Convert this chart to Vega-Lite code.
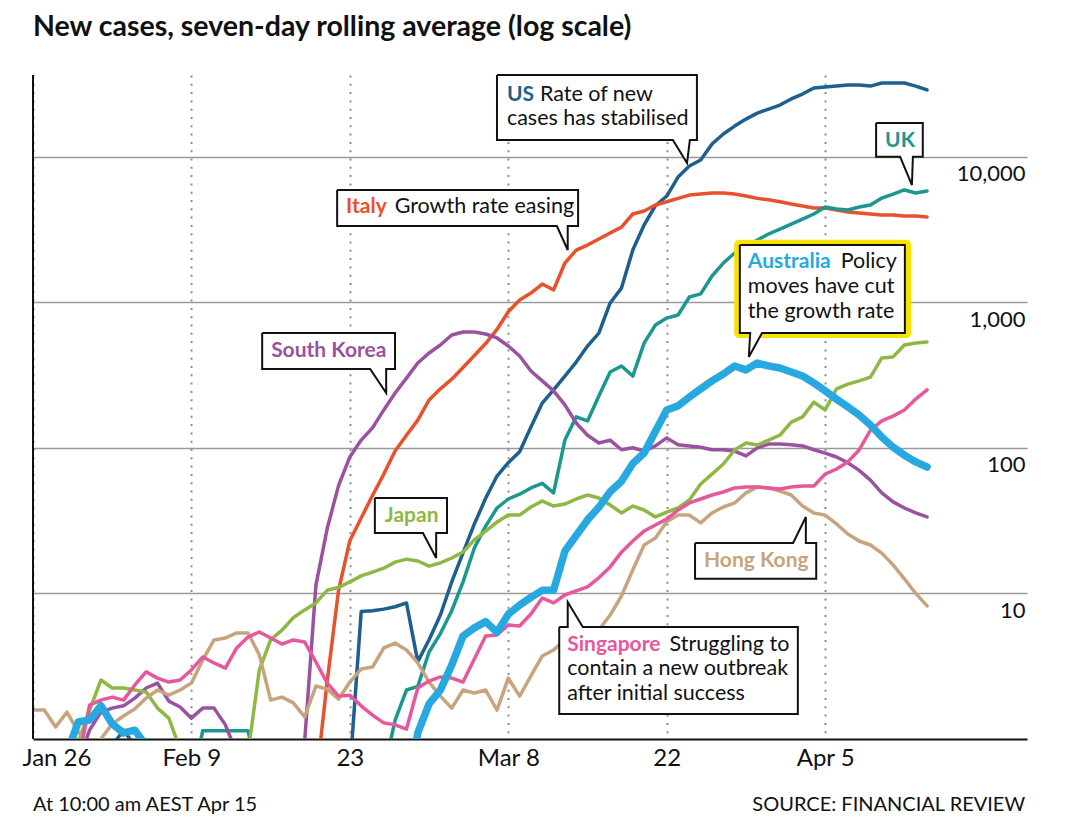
{
  "$schema": "https://vega.github.io/schema/vega-lite/v6.json",
  "autosize": "none",
  "width": 994,
  "height": 664,
  "padding": {"left": 33, "top": 75, "right": 53, "bottom": 98},
  "background": "white",
  "title": {"text": "New cases, seven-day rolling average (log scale)", "anchor": "start", "frame": "group", "font": "Lato", "fontSize": 28.5, "fontWeight": "bold", "color": "#111111", "offset": 30},
  "config": {"view": {"stroke": null}, "font": "Lato"},
  "data": {"values": [
    {"country":"US","date":"2020-02-02","cases":0.9},{"country":"US","date":"2020-02-03","cases":1.15},{"country":"US","date":"2020-02-04","cases":0.9},
    {"country":"US","date":"2020-02-23","cases":0.6},{"country":"US","date":"2020-02-24","cases":7.5},{"country":"US","date":"2020-02-25","cases":7.6},{"country":"US","date":"2020-02-26","cases":7.8},{"country":"US","date":"2020-02-27","cases":8.1},{"country":"US","date":"2020-02-28","cases":8.6},{"country":"US","date":"2020-02-29","cases":3.4},
    {"country":"US","date":"2020-03-01","cases":4.8},{"country":"US","date":"2020-03-02","cases":7.1},{"country":"US","date":"2020-03-03","cases":12},{"country":"US","date":"2020-03-04","cases":19},{"country":"US","date":"2020-03-05","cases":30},{"country":"US","date":"2020-03-06","cases":45},{"country":"US","date":"2020-03-07","cases":64},{"country":"US","date":"2020-03-08","cases":79},{"country":"US","date":"2020-03-09","cases":94},{"country":"US","date":"2020-03-10","cases":139},{"country":"US","date":"2020-03-11","cases":203},{"country":"US","date":"2020-03-12","cases":250},{"country":"US","date":"2020-03-13","cases":311},{"country":"US","date":"2020-03-14","cases":388},{"country":"US","date":"2020-03-15","cases":500},{"country":"US","date":"2020-03-16","cases":614},{"country":"US","date":"2020-03-17","cases":988},{"country":"US","date":"2020-03-18","cases":1250},{"country":"US","date":"2020-03-19","cases":2284},{"country":"US","date":"2020-03-20","cases":3390},{"country":"US","date":"2020-03-21","cases":4600},{"country":"US","date":"2020-03-22","cases":5360},{"country":"US","date":"2020-03-23","cases":7240},{"country":"US","date":"2020-03-24","cases":8610},{"country":"US","date":"2020-03-25","cases":9480},{"country":"US","date":"2020-03-26","cases":12200},{"country":"US","date":"2020-03-27","cases":14300},{"country":"US","date":"2020-03-28","cases":16200},{"country":"US","date":"2020-03-29","cases":18100},{"country":"US","date":"2020-03-30","cases":19900},{"country":"US","date":"2020-03-31","cases":21200},
    {"country":"US","date":"2020-04-01","cases":22600},{"country":"US","date":"2020-04-02","cases":24900},{"country":"US","date":"2020-04-03","cases":26900},{"country":"US","date":"2020-04-04","cases":29600},{"country":"US","date":"2020-04-05","cases":30100},{"country":"US","date":"2020-04-06","cases":30500},{"country":"US","date":"2020-04-07","cases":31000},{"country":"US","date":"2020-04-08","cases":31000},{"country":"US","date":"2020-04-09","cases":30500},{"country":"US","date":"2020-04-10","cases":32000},{"country":"US","date":"2020-04-11","cases":32000},{"country":"US","date":"2020-04-12","cases":32000},{"country":"US","date":"2020-04-13","cases":30500},{"country":"US","date":"2020-04-14","cases":28700},

    {"country":"Italy","date":"2020-02-20","cases":0.5},{"country":"Italy","date":"2020-02-21","cases":2.5},{"country":"Italy","date":"2020-02-22","cases":10.5},{"country":"Italy","date":"2020-02-23","cases":23},{"country":"Italy","date":"2020-02-24","cases":33},{"country":"Italy","date":"2020-02-25","cases":47},{"country":"Italy","date":"2020-02-26","cases":66},{"country":"Italy","date":"2020-02-27","cases":95},{"country":"Italy","date":"2020-02-28","cases":122},{"country":"Italy","date":"2020-02-29","cases":155},
    {"country":"Italy","date":"2020-03-01","cases":213},{"country":"Italy","date":"2020-03-02","cases":254},{"country":"Italy","date":"2020-03-03","cases":296},{"country":"Italy","date":"2020-03-04","cases":356},{"country":"Italy","date":"2020-03-05","cases":430},{"country":"Italy","date":"2020-03-06","cases":520},{"country":"Italy","date":"2020-03-07","cases":650},{"country":"Italy","date":"2020-03-08","cases":860},{"country":"Italy","date":"2020-03-09","cases":1035},{"country":"Italy","date":"2020-03-10","cases":1156},{"country":"Italy","date":"2020-03-11","cases":1333},{"country":"Italy","date":"2020-03-12","cases":1213},{"country":"Italy","date":"2020-03-13","cases":1858},{"country":"Italy","date":"2020-03-14","cases":2280},{"country":"Italy","date":"2020-03-15","cases":2470},{"country":"Italy","date":"2020-03-16","cases":2717},{"country":"Italy","date":"2020-03-17","cases":2987},{"country":"Italy","date":"2020-03-18","cases":3280},{"country":"Italy","date":"2020-03-19","cases":4034},{"country":"Italy","date":"2020-03-20","cases":4230},{"country":"Italy","date":"2020-03-21","cases":4650},{"country":"Italy","date":"2020-03-22","cases":4900},{"country":"Italy","date":"2020-03-23","cases":5165},{"country":"Italy","date":"2020-03-24","cases":5440},{"country":"Italy","date":"2020-03-25","cases":5530},{"country":"Italy","date":"2020-03-26","cases":5620},{"country":"Italy","date":"2020-03-27","cases":5620},{"country":"Italy","date":"2020-03-28","cases":5530},{"country":"Italy","date":"2020-03-29","cases":5360},{"country":"Italy","date":"2020-03-30","cases":5165},{"country":"Italy","date":"2020-03-31","cases":5060},
    {"country":"Italy","date":"2020-04-01","cases":4900},{"country":"Italy","date":"2020-04-02","cases":4720},{"country":"Italy","date":"2020-04-03","cases":4580},{"country":"Italy","date":"2020-04-04","cases":4436},{"country":"Italy","date":"2020-04-05","cases":4436},{"country":"Italy","date":"2020-04-06","cases":4297},{"country":"Italy","date":"2020-04-07","cases":4165},{"country":"Italy","date":"2020-04-08","cases":4100},{"country":"Italy","date":"2020-04-09","cases":4034},{"country":"Italy","date":"2020-04-10","cases":3970},{"country":"Italy","date":"2020-04-11","cases":3970},{"country":"Italy","date":"2020-04-12","cases":3909},{"country":"Italy","date":"2020-04-13","cases":3909},{"country":"Italy","date":"2020-04-14","cases":3847},

    {"country":"UK","date":"2020-02-09","cases":0.5},{"country":"UK","date":"2020-02-10","cases":1.14},{"country":"UK","date":"2020-02-11","cases":1.14},{"country":"UK","date":"2020-02-12","cases":1.14},{"country":"UK","date":"2020-02-13","cases":1.14},{"country":"UK","date":"2020-02-14","cases":1.14},{"country":"UK","date":"2020-02-15","cases":0.5},
    {"country":"UK","date":"2020-02-26","cases":0.6},{"country":"UK","date":"2020-02-27","cases":1.35},{"country":"UK","date":"2020-02-28","cases":2.17},{"country":"UK","date":"2020-02-29","cases":2.3},
    {"country":"UK","date":"2020-03-01","cases":3.96},{"country":"UK","date":"2020-03-02","cases":5.3},{"country":"UK","date":"2020-03-03","cases":7.6},{"country":"UK","date":"2020-03-04","cases":12},{"country":"UK","date":"2020-03-05","cases":20.5},{"country":"UK","date":"2020-03-06","cases":29},{"country":"UK","date":"2020-03-07","cases":38.6},{"country":"UK","date":"2020-03-08","cases":44.5},{"country":"UK","date":"2020-03-09","cases":48},{"country":"UK","date":"2020-03-10","cases":53},{"country":"UK","date":"2020-03-11","cases":57},{"country":"UK","date":"2020-03-12","cases":49},{"country":"UK","date":"2020-03-13","cases":113},{"country":"UK","date":"2020-03-14","cases":163},{"country":"UK","date":"2020-03-15","cases":153},{"country":"UK","date":"2020-03-16","cases":227},{"country":"UK","date":"2020-03-17","cases":332},{"country":"UK","date":"2020-03-18","cases":365},{"country":"UK","date":"2020-03-19","cases":311},{"country":"UK","date":"2020-03-20","cases":524},{"country":"UK","date":"2020-03-21","cases":697},{"country":"UK","date":"2020-03-22","cases":778},{"country":"UK","date":"2020-03-23","cases":817},{"country":"UK","date":"2020-03-24","cases":1086},{"country":"UK","date":"2020-03-25","cases":1140},{"country":"UK","date":"2020-03-26","cases":1514},{"country":"UK","date":"2020-03-27","cases":1858},{"country":"UK","date":"2020-03-28","cases":2177},{"country":"UK","date":"2020-03-29","cases":2430},{"country":"UK","date":"2020-03-30","cases":2675},{"country":"UK","date":"2020-03-31","cases":2940},
    {"country":"UK","date":"2020-04-01","cases":3180},{"country":"UK","date":"2020-04-02","cases":3443},{"country":"UK","date":"2020-04-03","cases":3726},{"country":"UK","date":"2020-04-04","cases":4034},{"country":"UK","date":"2020-04-05","cases":4506},{"country":"UK","date":"2020-04-06","cases":4366},{"country":"UK","date":"2020-04-07","cases":4297},{"country":"UK","date":"2020-04-08","cases":4506},{"country":"UK","date":"2020-04-09","cases":4650},{"country":"UK","date":"2020-04-10","cases":5190},{"country":"UK","date":"2020-04-11","cases":5530},{"country":"UK","date":"2020-04-12","cases":5900},{"country":"UK","date":"2020-04-13","cases":5620},{"country":"UK","date":"2020-04-14","cases":5800},

    {"country":"South Korea","date":"2020-01-30","cases":0.7},{"country":"South Korea","date":"2020-01-31","cases":1.15},{"country":"South Korea","date":"2020-02-01","cases":1.53},{"country":"South Korea","date":"2020-02-02","cases":1.63},{"country":"South Korea","date":"2020-02-03","cases":1.69},{"country":"South Korea","date":"2020-02-04","cases":1.91},{"country":"South Korea","date":"2020-02-05","cases":2.24},{"country":"South Korea","date":"2020-02-06","cases":2.42},{"country":"South Korea","date":"2020-02-07","cases":1.82},{"country":"South Korea","date":"2020-02-08","cases":1.66},{"country":"South Korea","date":"2020-02-09","cases":1.39},{"country":"South Korea","date":"2020-02-10","cases":1.63},{"country":"South Korea","date":"2020-02-11","cases":1.63},{"country":"South Korea","date":"2020-02-12","cases":1.25},{"country":"South Korea","date":"2020-02-13","cases":0.8},
    {"country":"South Korea","date":"2020-02-18","cases":0.3},{"country":"South Korea","date":"2020-02-19","cases":0.95},{"country":"South Korea","date":"2020-02-20","cases":11.4},{"country":"South Korea","date":"2020-02-21","cases":28},{"country":"South Korea","date":"2020-02-22","cases":55},{"country":"South Korea","date":"2020-02-23","cases":86.5},{"country":"South Korea","date":"2020-02-24","cases":113},{"country":"South Korea","date":"2020-02-25","cases":137},{"country":"South Korea","date":"2020-02-26","cases":182},{"country":"South Korea","date":"2020-02-27","cases":238},{"country":"South Korea","date":"2020-02-28","cases":301},{"country":"South Korea","date":"2020-02-29","cases":382},
    {"country":"South Korea","date":"2020-03-01","cases":448},{"country":"South Korea","date":"2020-03-02","cases":508},{"country":"South Korea","date":"2020-03-03","cases":595},{"country":"South Korea","date":"2020-03-04","cases":624},{"country":"South Korea","date":"2020-03-05","cases":624},{"country":"South Korea","date":"2020-03-06","cases":605},{"country":"South Korea","date":"2020-03-07","cases":568},{"country":"South Korea","date":"2020-03-08","cases":500},{"country":"South Korea","date":"2020-03-09","cases":427},{"country":"South Korea","date":"2020-03-10","cases":337},{"country":"South Korea","date":"2020-03-11","cases":288},{"country":"South Korea","date":"2020-03-12","cases":246},{"country":"South Korea","date":"2020-03-13","cases":197},{"country":"South Korea","date":"2020-03-14","cases":148},{"country":"South Korea","date":"2020-03-15","cases":122},{"country":"South Korea","date":"2020-03-16","cases":108},{"country":"South Korea","date":"2020-03-17","cases":113},{"country":"South Korea","date":"2020-03-18","cases":97},{"country":"South Korea","date":"2020-03-19","cases":100},{"country":"South Korea","date":"2020-03-20","cases":95},{"country":"South Korea","date":"2020-03-21","cases":103},{"country":"South Korea","date":"2020-03-22","cases":117},{"country":"South Korea","date":"2020-03-23","cases":105},{"country":"South Korea","date":"2020-03-24","cases":103},{"country":"South Korea","date":"2020-03-25","cases":101},{"country":"South Korea","date":"2020-03-26","cases":97},{"country":"South Korea","date":"2020-03-27","cases":97},{"country":"South Korea","date":"2020-03-28","cases":95},{"country":"South Korea","date":"2020-03-29","cases":88},{"country":"South Korea","date":"2020-03-30","cases":100},{"country":"South Korea","date":"2020-03-31","cases":106},
    {"country":"South Korea","date":"2020-04-01","cases":106},{"country":"South Korea","date":"2020-04-02","cases":105},{"country":"South Korea","date":"2020-04-03","cases":103},{"country":"South Korea","date":"2020-04-04","cases":97},{"country":"South Korea","date":"2020-04-05","cases":92},{"country":"South Korea","date":"2020-04-06","cases":86.5},{"country":"South Korea","date":"2020-04-07","cases":79},{"country":"South Korea","date":"2020-04-08","cases":70},{"country":"South Korea","date":"2020-04-09","cases":60},{"country":"South Korea","date":"2020-04-10","cases":49},{"country":"South Korea","date":"2020-04-11","cases":42.5},{"country":"South Korea","date":"2020-04-12","cases":38.6},{"country":"South Korea","date":"2020-04-13","cases":35.7},{"country":"South Korea","date":"2020-04-14","cases":33.5},

    {"country":"Japan","date":"2020-01-29","cases":0.8},{"country":"Japan","date":"2020-01-30","cases":0.95},{"country":"Japan","date":"2020-01-31","cases":1.58},{"country":"Japan","date":"2020-02-01","cases":2.54},{"country":"Japan","date":"2020-02-02","cases":2.24},{"country":"Japan","date":"2020-02-03","cases":2.24},{"country":"Japan","date":"2020-02-04","cases":2.17},{"country":"Japan","date":"2020-02-05","cases":2.1},{"country":"Japan","date":"2020-02-06","cases":1.63},{"country":"Japan","date":"2020-02-07","cases":1.39},{"country":"Japan","date":"2020-02-08","cases":0.85},
    {"country":"Japan","date":"2020-02-14","cases":0.8},{"country":"Japan","date":"2020-02-15","cases":2.98},{"country":"Japan","date":"2020-02-16","cases":4.8},{"country":"Japan","date":"2020-02-17","cases":5.6},{"country":"Japan","date":"2020-02-18","cases":6.8},{"country":"Japan","date":"2020-02-19","cases":7.7},{"country":"Japan","date":"2020-02-20","cases":8.6},{"country":"Japan","date":"2020-02-21","cases":10.5},{"country":"Japan","date":"2020-02-22","cases":11},{"country":"Japan","date":"2020-02-23","cases":12},{"country":"Japan","date":"2020-02-24","cases":13.2},{"country":"Japan","date":"2020-02-25","cases":14},{"country":"Japan","date":"2020-02-26","cases":14.9},{"country":"Japan","date":"2020-02-27","cases":16.4},{"country":"Japan","date":"2020-02-28","cases":17.2},{"country":"Japan","date":"2020-02-29","cases":16.7},
    {"country":"Japan","date":"2020-03-01","cases":15.4},{"country":"Japan","date":"2020-03-02","cases":16.2},{"country":"Japan","date":"2020-03-03","cases":17.5},{"country":"Japan","date":"2020-03-04","cases":19.2},{"country":"Japan","date":"2020-03-05","cases":23.3},{"country":"Japan","date":"2020-03-06","cases":26.8},{"country":"Japan","date":"2020-03-07","cases":30.9},{"country":"Japan","date":"2020-03-08","cases":34.5},{"country":"Japan","date":"2020-03-09","cases":34.5},{"country":"Japan","date":"2020-03-10","cases":39.2},{"country":"Japan","date":"2020-03-11","cases":43.1},{"country":"Japan","date":"2020-03-12","cases":39.8},{"country":"Japan","date":"2020-03-13","cases":41.1},{"country":"Japan","date":"2020-03-14","cases":44.5},{"country":"Japan","date":"2020-03-15","cases":47.4},{"country":"Japan","date":"2020-03-16","cases":45.2},{"country":"Japan","date":"2020-03-17","cases":40.5},{"country":"Japan","date":"2020-03-18","cases":35.7},{"country":"Japan","date":"2020-03-19","cases":39.8},{"country":"Japan","date":"2020-03-20","cases":37.4},{"country":"Japan","date":"2020-03-21","cases":33.5},{"country":"Japan","date":"2020-03-22","cases":36.2},{"country":"Japan","date":"2020-03-23","cases":38.6},{"country":"Japan","date":"2020-03-24","cases":43.8},{"country":"Japan","date":"2020-03-25","cases":56.4},{"country":"Japan","date":"2020-03-26","cases":66},{"country":"Japan","date":"2020-03-27","cases":77.4},{"country":"Japan","date":"2020-03-28","cases":96.6},{"country":"Japan","date":"2020-03-29","cases":108},{"country":"Japan","date":"2020-03-30","cases":104.5},{"country":"Japan","date":"2020-03-31","cases":113},
    {"country":"Japan","date":"2020-04-01","cases":122},{"country":"Japan","date":"2020-04-02","cases":150},{"country":"Japan","date":"2020-04-03","cases":163},{"country":"Japan","date":"2020-04-04","cases":206},{"country":"Japan","date":"2020-04-05","cases":182},{"country":"Japan","date":"2020-04-06","cases":254},{"country":"Japan","date":"2020-04-07","cases":274},{"country":"Japan","date":"2020-04-08","cases":288},{"country":"Japan","date":"2020-04-09","cases":306},{"country":"Japan","date":"2020-04-10","cases":414},{"country":"Japan","date":"2020-04-11","cases":421},{"country":"Japan","date":"2020-04-12","cases":508},{"country":"Japan","date":"2020-04-13","cases":525},{"country":"Japan","date":"2020-04-14","cases":533},

    {"country":"Australia","date":"2020-01-29","cases":0.8},{"country":"Australia","date":"2020-01-30","cases":1.31},{"country":"Australia","date":"2020-01-31","cases":1.35},{"country":"Australia","date":"2020-02-01","cases":1.69},{"country":"Australia","date":"2020-02-02","cases":1.27},{"country":"Australia","date":"2020-02-03","cases":1.1},{"country":"Australia","date":"2020-02-04","cases":1.15},{"country":"Australia","date":"2020-02-05","cases":0.9},{"country":"Australia","date":"2020-02-06","cases":0.5},
    {"country":"Australia","date":"2020-02-28","cases":0.4},{"country":"Australia","date":"2020-02-29","cases":1.1},{"country":"Australia","date":"2020-03-01","cases":1.74},{"country":"Australia","date":"2020-03-02","cases":2.17},{"country":"Australia","date":"2020-03-03","cases":3.22},{"country":"Australia","date":"2020-03-04","cases":5.1},{"country":"Australia","date":"2020-03-05","cases":5.8},{"country":"Australia","date":"2020-03-06","cases":6.4},{"country":"Australia","date":"2020-03-07","cases":5.4},{"country":"Australia","date":"2020-03-08","cases":7.2},{"country":"Australia","date":"2020-03-09","cases":8.3},{"country":"Australia","date":"2020-03-10","cases":9.4},{"country":"Australia","date":"2020-03-11","cases":10.5},{"country":"Australia","date":"2020-03-12","cases":10.5},{"country":"Australia","date":"2020-03-13","cases":19.5},{"country":"Australia","date":"2020-03-14","cases":25},{"country":"Australia","date":"2020-03-15","cases":32},{"country":"Australia","date":"2020-03-16","cases":39},{"country":"Australia","date":"2020-03-17","cases":50},{"country":"Australia","date":"2020-03-18","cases":59},{"country":"Australia","date":"2020-03-19","cases":78},{"country":"Australia","date":"2020-03-20","cases":92},{"country":"Australia","date":"2020-03-21","cases":130},{"country":"Australia","date":"2020-03-22","cases":182},{"country":"Australia","date":"2020-03-23","cases":194},{"country":"Australia","date":"2020-03-24","cases":223},{"country":"Australia","date":"2020-03-25","cases":254},{"country":"Australia","date":"2020-03-26","cases":288},{"country":"Australia","date":"2020-03-27","cases":321},{"country":"Australia","date":"2020-03-28","cases":365},{"country":"Australia","date":"2020-03-29","cases":343},{"country":"Australia","date":"2020-03-30","cases":382},{"country":"Australia","date":"2020-03-31","cases":365},
    {"country":"Australia","date":"2020-04-01","cases":353},{"country":"Australia","date":"2020-04-02","cases":332},{"country":"Australia","date":"2020-04-03","cases":311},{"country":"Australia","date":"2020-04-04","cases":279},{"country":"Australia","date":"2020-04-05","cases":246},{"country":"Australia","date":"2020-04-06","cases":216},{"country":"Australia","date":"2020-04-07","cases":191},{"country":"Australia","date":"2020-04-08","cases":168},{"country":"Australia","date":"2020-04-09","cases":143.5},{"country":"Australia","date":"2020-04-10","cases":118.6},{"country":"Australia","date":"2020-04-11","cases":101},{"country":"Australia","date":"2020-04-12","cases":89},{"country":"Australia","date":"2020-04-13","cases":80},{"country":"Australia","date":"2020-04-14","cases":73.8},

    {"country":"Hong Kong","date":"2020-01-26","cases":1.58},{"country":"Hong Kong","date":"2020-01-27","cases":1.58},{"country":"Hong Kong","date":"2020-01-28","cases":1.21},{"country":"Hong Kong","date":"2020-01-29","cases":1.53},{"country":"Hong Kong","date":"2020-01-30","cases":1.12},{"country":"Hong Kong","date":"2020-01-31","cases":0.9},{"country":"Hong Kong","date":"2020-02-01","cases":1.0},{"country":"Hong Kong","date":"2020-02-02","cases":1.27},{"country":"Hong Kong","date":"2020-02-03","cases":1.44},{"country":"Hong Kong","date":"2020-02-04","cases":1.61},{"country":"Hong Kong","date":"2020-02-05","cases":1.91},{"country":"Hong Kong","date":"2020-02-06","cases":2.17},{"country":"Hong Kong","date":"2020-02-07","cases":2.0},{"country":"Hong Kong","date":"2020-02-08","cases":2.17},{"country":"Hong Kong","date":"2020-02-09","cases":2.42},{"country":"Hong Kong","date":"2020-02-10","cases":3.49},{"country":"Hong Kong","date":"2020-02-11","cases":4.79},{"country":"Hong Kong","date":"2020-02-12","cases":4.94},{"country":"Hong Kong","date":"2020-02-13","cases":5.35},{"country":"Hong Kong","date":"2020-02-14","cases":5.35},{"country":"Hong Kong","date":"2020-02-15","cases":3.78},{"country":"Hong Kong","date":"2020-02-16","cases":1.85},{"country":"Hong Kong","date":"2020-02-17","cases":1.94},{"country":"Hong Kong","date":"2020-02-18","cases":1.77},{"country":"Hong Kong","date":"2020-02-19","cases":1.42},{"country":"Hong Kong","date":"2020-02-20","cases":2.31},{"country":"Hong Kong","date":"2020-02-21","cases":2.2},{"country":"Hong Kong","date":"2020-02-22","cases":1.88},{"country":"Hong Kong","date":"2020-02-23","cases":2.46},{"country":"Hong Kong","date":"2020-02-24","cases":3.03},{"country":"Hong Kong","date":"2020-02-25","cases":3.12},{"country":"Hong Kong","date":"2020-02-26","cases":4.22},{"country":"Hong Kong","date":"2020-02-27","cases":4.56},{"country":"Hong Kong","date":"2020-02-28","cases":4.09},{"country":"Hong Kong","date":"2020-02-29","cases":3.33},
    {"country":"Hong Kong","date":"2020-03-01","cases":2.46},{"country":"Hong Kong","date":"2020-03-02","cases":1.97},{"country":"Hong Kong","date":"2020-03-03","cases":1.63},{"country":"Hong Kong","date":"2020-03-04","cases":2.17},{"country":"Hong Kong","date":"2020-03-05","cases":2.07},{"country":"Hong Kong","date":"2020-03-06","cases":2.17},{"country":"Hong Kong","date":"2020-03-07","cases":1.58},{"country":"Hong Kong","date":"2020-03-08","cases":2.62},{"country":"Hong Kong","date":"2020-03-09","cases":1.97},{"country":"Hong Kong","date":"2020-03-10","cases":2.71},{"country":"Hong Kong","date":"2020-03-11","cases":3.72},{"country":"Hong Kong","date":"2020-03-12","cases":4.09},{"country":"Hong Kong","date":"2020-03-13","cases":4.79},{"country":"Hong Kong","date":"2020-03-14","cases":4.56},{"country":"Hong Kong","date":"2020-03-15","cases":4.94},{"country":"Hong Kong","date":"2020-03-16","cases":5.6},{"country":"Hong Kong","date":"2020-03-17","cases":7.1},{"country":"Hong Kong","date":"2020-03-18","cases":9.6},{"country":"Hong Kong","date":"2020-03-19","cases":14.5},{"country":"Hong Kong","date":"2020-03-20","cases":21.5},{"country":"Hong Kong","date":"2020-03-21","cases":24},{"country":"Hong Kong","date":"2020-03-22","cases":31},{"country":"Hong Kong","date":"2020-03-23","cases":34.5},{"country":"Hong Kong","date":"2020-03-24","cases":34.5},{"country":"Hong Kong","date":"2020-03-25","cases":30.5},{"country":"Hong Kong","date":"2020-03-26","cases":35.7},{"country":"Hong Kong","date":"2020-03-27","cases":39.2},{"country":"Hong Kong","date":"2020-03-28","cases":41.8},{"country":"Hong Kong","date":"2020-03-29","cases":49},{"country":"Hong Kong","date":"2020-03-30","cases":53.8},{"country":"Hong Kong","date":"2020-03-31","cases":53},
    {"country":"Hong Kong","date":"2020-04-01","cases":50.5},{"country":"Hong Kong","date":"2020-04-02","cases":47.4},{"country":"Hong Kong","date":"2020-04-03","cases":39.8},{"country":"Hong Kong","date":"2020-04-04","cases":35.7},{"country":"Hong Kong","date":"2020-04-05","cases":34.5},{"country":"Hong Kong","date":"2020-04-06","cases":30},{"country":"Hong Kong","date":"2020-04-07","cases":25.6},{"country":"Hong Kong","date":"2020-04-08","cases":22.9},{"country":"Hong Kong","date":"2020-04-09","cases":21.5},{"country":"Hong Kong","date":"2020-04-10","cases":18.9},{"country":"Hong Kong","date":"2020-04-11","cases":15.7},{"country":"Hong Kong","date":"2020-04-12","cases":12.6},{"country":"Hong Kong","date":"2020-04-13","cases":10},{"country":"Hong Kong","date":"2020-04-14","cases":8.2},

    {"country":"Singapore","date":"2020-01-30","cases":0.7},{"country":"Singapore","date":"2020-01-31","cases":1.71},{"country":"Singapore","date":"2020-02-01","cases":1.85},{"country":"Singapore","date":"2020-02-02","cases":1.94},{"country":"Singapore","date":"2020-02-03","cases":1.85},{"country":"Singapore","date":"2020-02-04","cases":2.35},{"country":"Singapore","date":"2020-02-05","cases":2.89},{"country":"Singapore","date":"2020-02-06","cases":2.62},{"country":"Singapore","date":"2020-02-07","cases":2.46},{"country":"Singapore","date":"2020-02-08","cases":2.54},{"country":"Singapore","date":"2020-02-09","cases":2.98},{"country":"Singapore","date":"2020-02-10","cases":3.66},{"country":"Singapore","date":"2020-02-11","cases":3.33},{"country":"Singapore","date":"2020-02-12","cases":3.07},{"country":"Singapore","date":"2020-02-13","cases":4.22},{"country":"Singapore","date":"2020-02-14","cases":5.02},{"country":"Singapore","date":"2020-02-15","cases":5.43},{"country":"Singapore","date":"2020-02-16","cases":4.94},{"country":"Singapore","date":"2020-02-17","cases":4.49},{"country":"Singapore","date":"2020-02-18","cases":4.79},{"country":"Singapore","date":"2020-02-19","cases":4.64},{"country":"Singapore","date":"2020-02-20","cases":3.38},{"country":"Singapore","date":"2020-02-21","cases":2.42},{"country":"Singapore","date":"2020-02-22","cases":1.97},{"country":"Singapore","date":"2020-02-23","cases":2.0},{"country":"Singapore","date":"2020-02-24","cases":1.69},{"country":"Singapore","date":"2020-02-25","cases":1.46},{"country":"Singapore","date":"2020-02-26","cases":1.29},{"country":"Singapore","date":"2020-02-27","cases":1.25},{"country":"Singapore","date":"2020-02-28","cases":1.17},{"country":"Singapore","date":"2020-02-29","cases":2.24},
    {"country":"Singapore","date":"2020-03-01","cases":2.5},{"country":"Singapore","date":"2020-03-02","cases":2.67},{"country":"Singapore","date":"2020-03-03","cases":2.62},{"country":"Singapore","date":"2020-03-04","cases":2.46},{"country":"Singapore","date":"2020-03-05","cases":3.54},{"country":"Singapore","date":"2020-03-06","cases":5.1},{"country":"Singapore","date":"2020-03-07","cases":5.18},{"country":"Singapore","date":"2020-03-08","cases":6.07},{"country":"Singapore","date":"2020-03-09","cases":5.97},{"country":"Singapore","date":"2020-03-10","cases":7.22},{"country":"Singapore","date":"2020-03-11","cases":9.3},{"country":"Singapore","date":"2020-03-12","cases":8.6},{"country":"Singapore","date":"2020-03-13","cases":9.75},{"country":"Singapore","date":"2020-03-14","cases":10.4},{"country":"Singapore","date":"2020-03-15","cases":11.1},{"country":"Singapore","date":"2020-03-16","cases":12.8},{"country":"Singapore","date":"2020-03-17","cases":15.2},{"country":"Singapore","date":"2020-03-18","cases":19.2},{"country":"Singapore","date":"2020-03-19","cases":22.9},{"country":"Singapore","date":"2020-03-20","cases":26.8},{"country":"Singapore","date":"2020-03-21","cases":29.5},{"country":"Singapore","date":"2020-03-22","cases":32.4},{"country":"Singapore","date":"2020-03-23","cases":37.4},{"country":"Singapore","date":"2020-03-24","cases":41.8},{"country":"Singapore","date":"2020-03-25","cases":44.5},{"country":"Singapore","date":"2020-03-26","cases":47.4},{"country":"Singapore","date":"2020-03-27","cases":49.7},{"country":"Singapore","date":"2020-03-28","cases":53},{"country":"Singapore","date":"2020-03-29","cases":53.8},{"country":"Singapore","date":"2020-03-30","cases":53.8},{"country":"Singapore","date":"2020-03-31","cases":53},
    {"country":"Singapore","date":"2020-04-01","cases":52.1},{"country":"Singapore","date":"2020-04-02","cases":53.8},{"country":"Singapore","date":"2020-04-03","cases":54.7},{"country":"Singapore","date":"2020-04-04","cases":54.7},{"country":"Singapore","date":"2020-04-05","cases":66},{"country":"Singapore","date":"2020-04-06","cases":71.5},{"country":"Singapore","date":"2020-04-07","cases":80},{"country":"Singapore","date":"2020-04-08","cases":96.6},{"country":"Singapore","date":"2020-04-09","cases":132},{"country":"Singapore","date":"2020-04-10","cases":153},{"country":"Singapore","date":"2020-04-11","cases":165},{"country":"Singapore","date":"2020-04-12","cases":182},{"country":"Singapore","date":"2020-04-13","cases":216},{"country":"Singapore","date":"2020-04-14","cases":250}
  ]},
  "layer": [
    {
      "transform": [{"filter": "datum.country !== 'Australia'"}],
      "mark": {"type": "line", "strokeWidth": 3.5, "clip": true, "strokeJoin": "round", "strokeCap": "round"},
      "encoding": {
        "x": {"field": "date", "type": "temporal",
          "scale": {"type": "utc", "nice": false, "domain": [{"year": 2020, "month": 1, "date": 26, "utc": true}, {"year": 2020, "month": 4, "date": 22, "hours": 20, "utc": true}]},
          "axis": {"title": null,
            "values": [{"year": 2020, "month": 1, "date": 26, "utc": true}, {"year": 2020, "month": 2, "date": 9, "utc": true}, {"year": 2020, "month": 2, "date": 23, "utc": true}, {"year": 2020, "month": 3, "date": 8, "utc": true}, {"year": 2020, "month": 3, "date": 22, "utc": true}, {"year": 2020, "month": 4, "date": 5, "utc": true}],
            "labelExpr": "(utcdate(datum.value) == 22 || utcdate(datum.value) == 23) ? '' + utcdate(datum.value) : utcFormat(datum.value, '%b') + ' ' + utcdate(datum.value)",
            "labelFont": "Lato", "labelFontSize": 24, "labelColor": "#111111", "labelPadding": 7,
            "labelFlush": true, "labelFlushOffset": 11, "labelOverlap": false,
            "ticks": false, "domain": true, "domainColor": "#111111", "domainWidth": 2,
            "grid": true, "gridColor": "#8c8c8c", "gridDash": [2, 6.3], "gridWidth": 2}},
        "y": {"field": "cases", "type": "quantitative",
          "scale": {"type": "log", "nice": false, "domain": [1, 36350]},
          "axis": {"title": null, "orient": "right", "values": [10, 100, 1000, 10000], "format": ",",
            "labelFont": "Lato", "labelFontSize": 22, "labelColor": "#111111", "labelAlign": "right", "labelBaseline": "middle",
            "labelPadding": -2, "labelOffset": 17, "ticks": false, "domain": false,
            "grid": true, "gridColor": "#9a9a9a", "gridWidth": 1.5}},
        "color": {"field": "country", "type": "nominal", "legend": null,
          "scale": {"domain": ["Hong Kong", "Singapore", "Japan", "South Korea", "UK", "Italy", "US", "Australia"],
                    "range": ["#c7a47d", "#e8579c", "#8db843", "#9a52a0", "#1b9790", "#e8512c", "#1d5f8e", "#28a8e0"]}}
      }
    },
    {
      "transform": [{"filter": "datum.country === 'Australia'"}],
      "mark": {"type": "line", "strokeWidth": 7.5, "clip": true, "strokeJoin": "round", "strokeCap": "round"},
      "encoding": {
        "x": {"field": "date", "type": "temporal"},
        "y": {"field": "cases", "type": "quantitative"},
        "color": {"field": "country", "type": "nominal", "legend": null}
      }
    },
    {
      "data": {"values": [{"edge": "left"}]},
      "mark": {"type": "rule", "color": "#111111", "strokeWidth": 2},
      "encoding": {"x": {"datum": {"year": 2020, "month": 1, "date": 26, "utc": true}, "type": "temporal"}}
    },
    {
      "data": {"values": [{"id": "Australia", "x1": "2020-03-27T23:00Z", "x2": "2020-04-12T14:00Z", "y1": 2685, "y2": 568}]},
      "mark": {"type": "rect", "fill": "#f7e300", "cornerRadius": 5},
      "encoding": {
        "x": {"field": "x1", "type": "temporal"}, "x2": {"field": "x2"},
        "y": {"field": "y1", "type": "quantitative"}, "y2": {"field": "y2"}
      }
    },
    {
      "data": {"values": [
        {"id":"US","i":0,"date":"2020-03-07T00:00Z","cases":36350},{"id":"US","i":1,"date":"2020-03-24T16:00Z","cases":36350},{"id":"US","i":2,"date":"2020-03-24T16:00Z","cases":13000},{"id":"US","i":3,"date":"2020-03-24T01:00Z","cases":13000},{"id":"US","i":4,"date":"2020-03-23T19:00Z","cases":9040},{"id":"US","i":5,"date":"2020-03-22T13:00Z","cases":13000},{"id":"US","i":6,"date":"2020-03-07T00:00Z","cases":13000},{"id":"US","i":7,"date":"2020-03-07T00:00Z","cases":36350},
        {"id":"Italy","i":0,"date":"2020-02-21T21:00Z","cases":5900},{"id":"Italy","i":1,"date":"2020-03-14T04:00Z","cases":5900},{"id":"Italy","i":2,"date":"2020-03-14T04:00Z","cases":3337},{"id":"Italy","i":3,"date":"2020-03-13T06:00Z","cases":3337},{"id":"Italy","i":4,"date":"2020-03-13T06:00Z","cases":2282},{"id":"Italy","i":5,"date":"2020-03-12T07:00Z","cases":3337},{"id":"Italy","i":6,"date":"2020-02-21T21:00Z","cases":3337},{"id":"Italy","i":7,"date":"2020-02-21T21:00Z","cases":5900},
        {"id":"South Korea","i":0,"date":"2020-02-15T06:00Z","cases":614},{"id":"South Korea","i":1,"date":"2020-02-26T23:45Z","cases":614},{"id":"South Korea","i":2,"date":"2020-02-26T23:45Z","cases":348},{"id":"South Korea","i":3,"date":"2020-02-26T05:00Z","cases":348},{"id":"South Korea","i":4,"date":"2020-02-26T05:00Z","cases":238},{"id":"South Korea","i":5,"date":"2020-02-24T19:00Z","cases":348},{"id":"South Korea","i":6,"date":"2020-02-15T06:00Z","cases":348},{"id":"South Korea","i":7,"date":"2020-02-15T06:00Z","cases":614},
        {"id":"Japan","i":0,"date":"2020-02-25T05:00Z","cases":45.2},{"id":"Japan","i":1,"date":"2020-03-02T14:00Z","cases":45.2},{"id":"Japan","i":2,"date":"2020-03-02T14:00Z","cases":26},{"id":"Japan","i":3,"date":"2020-03-01T15:00Z","cases":26},{"id":"Japan","i":4,"date":"2020-03-01T15:00Z","cases":17.5},{"id":"Japan","i":5,"date":"2020-02-29T11:00Z","cases":26},{"id":"Japan","i":6,"date":"2020-02-25T05:00Z","cases":26},{"id":"Japan","i":7,"date":"2020-02-25T05:00Z","cases":45.2},
        {"id":"Australia","i":0,"date":"2020-03-28T11:00Z","cases":2471},{"id":"Australia","i":1,"date":"2020-04-12T01:00Z","cases":2471},{"id":"Australia","i":2,"date":"2020-04-12T01:00Z","cases":614},{"id":"Australia","i":3,"date":"2020-03-30T10:00Z","cases":614},{"id":"Australia","i":4,"date":"2020-03-29T06:00Z","cases":421},{"id":"Australia","i":5,"date":"2020-03-29T09:00Z","cases":614},{"id":"Australia","i":6,"date":"2020-03-28T11:00Z","cases":614},{"id":"Australia","i":7,"date":"2020-03-28T11:00Z","cases":2471},
        {"id":"UK","i":0,"date":"2020-04-09T12:00Z","cases":17000},{"id":"UK","i":1,"date":"2020-04-13T15:00Z","cases":17000},{"id":"UK","i":2,"date":"2020-04-13T15:00Z","cases":9970},{"id":"UK","i":3,"date":"2020-04-12T18:00Z","cases":9970},{"id":"UK","i":4,"date":"2020-04-12T16:00Z","cases":6380},{"id":"UK","i":5,"date":"2020-04-11T15:00Z","cases":9970},{"id":"UK","i":6,"date":"2020-04-09T12:00Z","cases":9970},{"id":"UK","i":7,"date":"2020-04-09T12:00Z","cases":17000},
        {"id":"Hong Kong","i":0,"date":"2020-03-24T12:00Z","cases":22.2},{"id":"Hong Kong","i":1,"date":"2020-04-02T04:00Z","cases":22.2},{"id":"Hong Kong","i":2,"date":"2020-04-03T07:00Z","cases":33.5},{"id":"Hong Kong","i":3,"date":"2020-04-03T07:00Z","cases":22.2},{"id":"Hong Kong","i":4,"date":"2020-04-04T05:00Z","cases":22.2},{"id":"Hong Kong","i":5,"date":"2020-04-04T05:00Z","cases":12.6},{"id":"Hong Kong","i":6,"date":"2020-03-24T12:00Z","cases":12.6},{"id":"Hong Kong","i":7,"date":"2020-03-24T12:00Z","cases":22.2},
        {"id":"Singapore","i":0,"date":"2020-03-12T12:00Z","cases":5.88},{"id":"Singapore","i":1,"date":"2020-03-13T06:00Z","cases":5.88},{"id":"Singapore","i":2,"date":"2020-03-13T06:00Z","cases":8.73},{"id":"Singapore","i":3,"date":"2020-03-14T14:00Z","cases":5.88},{"id":"Singapore","i":4,"date":"2020-04-02T14:00Z","cases":5.88},{"id":"Singapore","i":5,"date":"2020-04-02T14:00Z","cases":1.485},{"id":"Singapore","i":6,"date":"2020-03-12T12:00Z","cases":1.485},{"id":"Singapore","i":7,"date":"2020-03-12T12:00Z","cases":5.88}
      ]},
      "mark": {"type": "line", "stroke": "#111111", "fill": "white", "strokeWidth": 2, "strokeJoin": "miter", "clip": false},
      "encoding": {
        "x": {"field": "date", "type": "temporal"},
        "y": {"field": "cases", "type": "quantitative"},
        "detail": {"field": "id", "type": "nominal"},
        "order": {"field": "i", "type": "quantitative"}
      }
    },
    {
      "data": {"values": [
        {"country": "US", "label": "US", "date": "2020-03-07T21:00Z", "cases": 26500},
        {"country": "Italy", "label": "Italy", "date": "2020-02-22T16:00Z", "cases": 4508},
        {"country": "South Korea", "label": "South Korea", "date": "2020-02-16T01:00Z", "cases": 462},
        {"country": "Japan", "label": "Japan", "date": "2020-02-26T02:00Z", "cases": 34},
        {"country": "Australia", "label": "Australia", "date": "2020-03-29T04:00Z", "cases": 1889},
        {"country": "UK", "label": "UK", "date": "2020-04-10T07:00Z", "cases": 12800},
        {"country": "Hong Kong", "label": "Hong Kong", "date": "2020-03-25T07:00Z", "cases": 16.7},
        {"country": "Singapore", "label": "Singapore", "date": "2020-03-13T05:00Z", "cases": 4.42}
      ]},
      "mark": {"type": "text", "font": "Lato", "fontSize": 21, "fontWeight": "bold", "align": "left", "baseline": "middle"},
      "encoding": {
        "x": {"field": "date", "type": "temporal"},
        "y": {"field": "cases", "type": "quantitative"},
        "text": {"field": "label"},
        "color": {"field": "country", "type": "nominal", "legend": null}
      }
    },
    {
      "data": {"values": [
        {"label": "Rate of new", "date": "2020-03-10T19:00Z", "cases": 26500},
        {"label": "cases has stabilised", "date": "2020-03-07T21:00Z", "cases": 18100},
        {"label": "Growth rate easing", "date": "2020-02-26T23:00Z", "cases": 4508},
        {"label": "Policy", "date": "2020-04-06T09:00Z", "cases": 1889},
        {"label": "moves have cut", "date": "2020-03-29T04:00Z", "cases": 1271},
        {"label": "the growth rate", "date": "2020-03-29T04:00Z", "cases": 857},
        {"label": "Struggling to", "date": "2020-03-22T06:00Z", "cases": 4.42},
        {"label": "contain a new outbreak", "date": "2020-03-13T05:00Z", "cases": 3.03},
        {"label": "after initial success", "date": "2020-03-13T05:00Z", "cases": 2.04}
      ]},
      "mark": {"type": "text", "font": "Lato", "fontSize": 21.5, "fontWeight": "normal", "align": "left", "baseline": "middle", "color": "#111111"},
      "encoding": {
        "x": {"field": "date", "type": "temporal"},
        "y": {"field": "cases", "type": "quantitative"},
        "text": {"field": "label"}
      }
    },
    {
      "data": {"values": [{"label": "At 10:00 am AEST Apr 15"}]},
      "mark": {"type": "text", "font": "Lato", "fontSize": 20, "fontWeight": "normal", "align": "left", "baseline": "middle", "color": "#111111"},
      "encoding": {
        "x": {"datum": {"year": 2020, "month": 1, "date": 26, "utc": true}, "type": "temporal"},
        "y": {"datum": 0.352, "type": "quantitative"},
        "text": {"field": "label"}
      }
    },
    {
      "data": {"values": [{"label": "SOURCE: FINANCIAL REVIEW"}]},
      "mark": {"type": "text", "font": "Lato", "fontSize": 20, "fontWeight": "normal", "align": "right", "baseline": "middle", "color": "#111111"},
      "encoding": {
        "x": {"datum": {"year": 2020, "month": 4, "date": 22, "hours": 16, "utc": true}, "type": "temporal"},
        "y": {"datum": 0.352, "type": "quantitative"},
        "text": {"field": "label"}
      }
    }
  ]
}
